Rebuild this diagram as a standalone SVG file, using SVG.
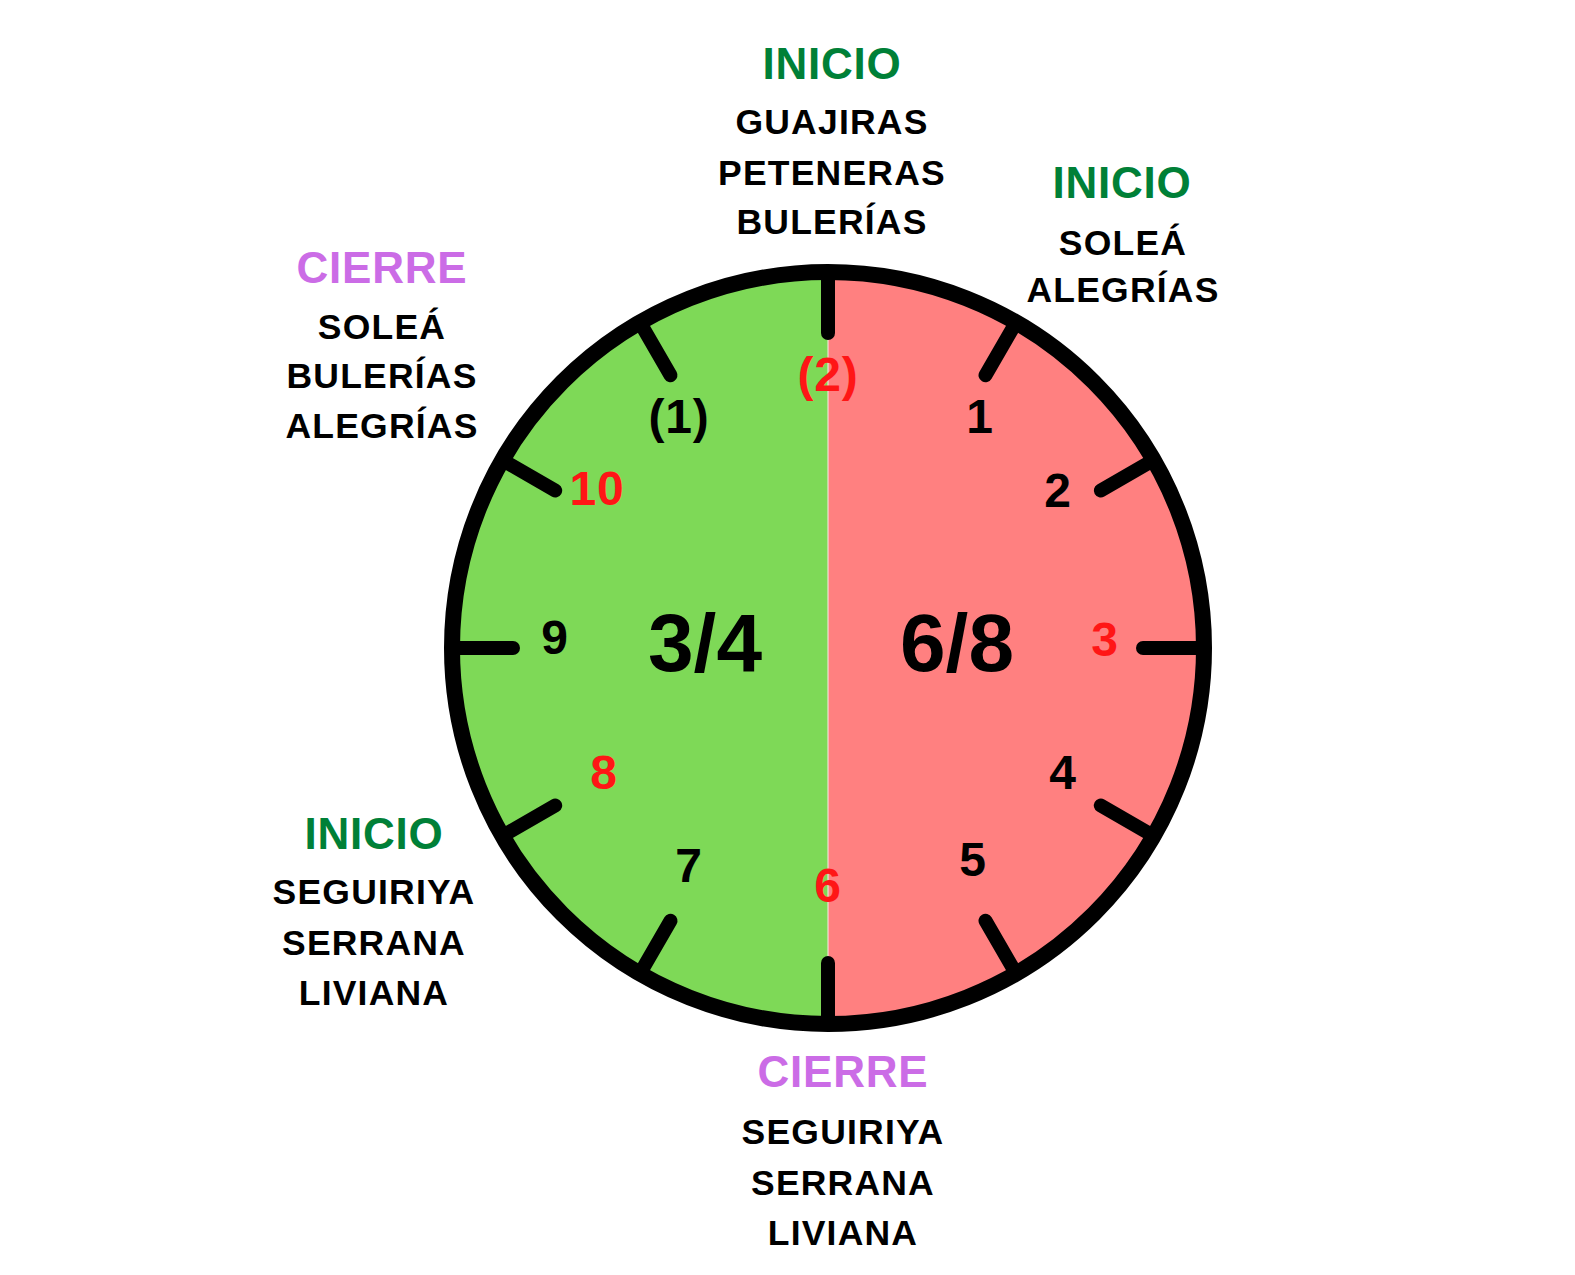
<svg xmlns="http://www.w3.org/2000/svg" width="1575" height="1275" viewBox="0 0 1575 1275">
<style>
text{font-family:"Liberation Sans",Arial,sans-serif;font-weight:bold;text-anchor:middle}
.h{font-size:44px;letter-spacing:0.8px}
.ini{fill:#008037}
.cie{fill:#CB6CE6}
.s{font-size:35.5px;letter-spacing:1.2px;fill:#000}
.n{font-size:48px;letter-spacing:0.8px;fill:#000}
.r{fill:#FF1616}
.big{font-size:82px;fill:#000}
.tick{stroke:#000;stroke-width:14;stroke-linecap:round}
</style>
<rect width="1575" height="1275" fill="#fff"/>
<g id="face">
<path d="M828,272 A376,376 0 0 1 828,1024 Z" fill="#FF8080"/>
<path d="M828,272 A376,376 0 0 0 828,1024 Z" fill="#7ED957"/>
<line x1="828" y1="272" x2="828" y2="1024" stroke="#f4efe6" stroke-width="1"/>
<circle cx="828" cy="648" r="376" fill="none" stroke="#000" stroke-width="16"/>
</g>
<g id="ticks">
<line class="tick" x1="828" y1="333" x2="828" y2="272"/>
<line class="tick" x1="985.5" y1="375.2" x2="1016" y2="322.4"/>
<line class="tick" x1="1100.8" y1="490.5" x2="1153.6" y2="460"/>
<line class="tick" x1="1143" y1="648" x2="1204" y2="648"/>
<line class="tick" x1="1100.8" y1="805.5" x2="1153.6" y2="836"/>
<line class="tick" x1="985.5" y1="920.8" x2="1016" y2="973.6"/>
<line class="tick" x1="828" y1="963" x2="828" y2="1024"/>
<line class="tick" x1="670.5" y1="920.8" x2="640" y2="973.6"/>
<line class="tick" x1="555.2" y1="805.5" x2="502.4" y2="836"/>
<line class="tick" x1="513" y1="648" x2="452" y2="648"/>
<line class="tick" x1="555.2" y1="490.5" x2="502.4" y2="460"/>
<line class="tick" x1="670.5" y1="375.2" x2="640" y2="322.4"/>
</g>
<g id="beats">
<text class="n r" x="828" y="391">(2)</text>
<text class="n" x="679" y="433">(1)</text>
<text class="n" x="980" y="433">1</text>
<text class="n" x="1058" y="507">2</text>
<text class="n r" x="1105" y="656">3</text>
<text class="n" x="1063" y="789">4</text>
<text class="n" x="973" y="876">5</text>
<text class="n r" x="828" y="902">6</text>
<text class="n" x="689" y="882">7</text>
<text class="n r" x="604" y="789">8</text>
<text class="n" x="555" y="654">9</text>
<text class="n r" x="597" y="505">10</text>
</g>
<g id="meter-34"><text class="big" x="705" y="671">3/4</text></g>
<g id="meter-68"><text class="big" x="957" y="671">6/8</text></g>
<g id="top-inicio">
<text class="h ini" x="832" y="79">INICIO</text>
<text class="s" x="832" y="134">GUAJIRAS</text>
<text class="s" x="832" y="185">PETENERAS</text>
<text class="s" x="832" y="234">BULERÍAS</text>
</g>
<g id="right-inicio">
<text class="h ini" x="1122" y="198">INICIO</text>
<text class="s" x="1123" y="255">SOLEÁ</text>
<text class="s" x="1123" y="302">ALEGRÍAS</text>
</g>
<g id="left-cierre">
<text class="h cie" x="382" y="283">CIERRE</text>
<text class="s" x="382" y="339">SOLEÁ</text>
<text class="s" x="382" y="388">BULERÍAS</text>
<text class="s" x="382" y="438">ALEGRÍAS</text>
</g>
<g id="left-inicio">
<text class="h ini" x="374" y="849">INICIO</text>
<text class="s" x="374" y="904">SEGUIRIYA</text>
<text class="s" x="374" y="955">SERRANA</text>
<text class="s" x="374" y="1005">LIVIANA</text>
</g>
<g id="bottom-cierre">
<text class="h cie" x="843" y="1087">CIERRE</text>
<text class="s" x="843" y="1144">SEGUIRIYA</text>
<text class="s" x="843" y="1195">SERRANA</text>
<text class="s" x="843" y="1245">LIVIANA</text>
</g>
</svg>
